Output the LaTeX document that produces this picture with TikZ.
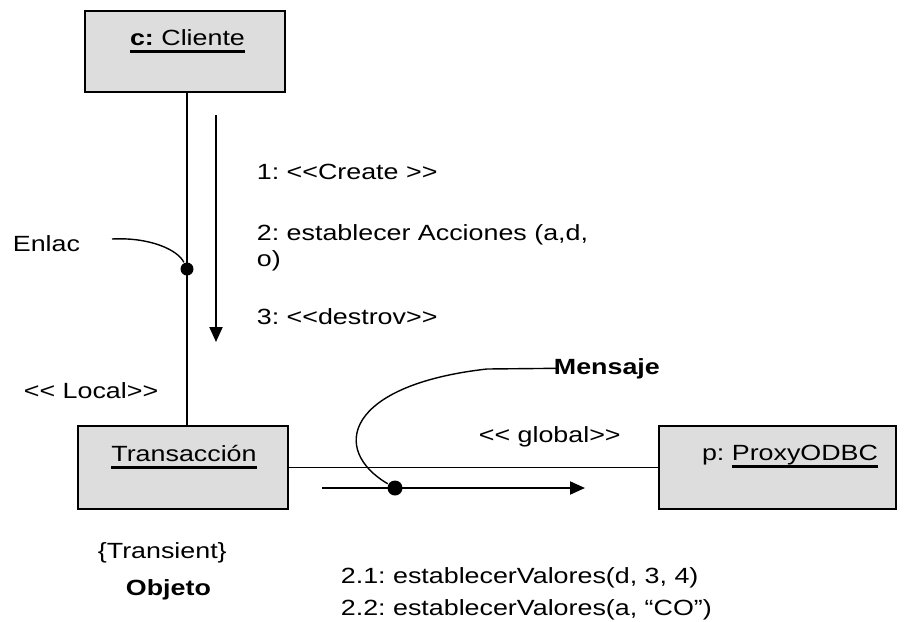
\documentclass[tikz,border=0pt]{standalone}
\usepackage{fontspec}
\setmainfont{Liberation Sans}[FakeStretch=1.22]
\usepackage{xcolor}
\usepackage{tikz}
\usetikzlibrary{arrows.meta}
\definecolor{boxgray}{RGB}{221,221,221}
\newcommand{\ulthick}[1]{\setbox0\hbox{#1}\rlap{\rule[-4pt]{\wd0}{1.5pt}}\box0}
\frenchspacing
\tikzset{
	objbox/.style={draw, line width=1pt, fill=boxgray, inner sep=0pt, anchor=north west},
	objname/.style={inner sep=0pt, anchor=base, font=\fontsize{11}{14}\selectfont},
	lbl/.style={anchor=base west, inner sep=0pt, font=\fontsize{11}{14}\selectfont},
	boldlbl/.style={lbl, font=\fontsize{11}{14}\selectfont\bfseries},
	msgarrow/.style={line width=1pt, -{Triangle[length=7.5pt, width=6.5pt]}},
	linkdot/.style={circle, fill, inner sep=0pt, minimum size=6.5pt},
}

\begin{document}
\begin{tikzpicture}[x=0.5pt, y=-0.5pt, line width=0.9pt]
	\useasboundingbox (0,0) rectangle (912,622);
	\node(cliente) [objbox, minimum width=100pt, minimum height=40.5pt] at (84,10) {};
	\node(transaccion) [objbox, minimum width=105pt, minimum height=41.5pt] at (77,425) {};
	\node(proxy) [objbox, minimum width=118.5pt, minimum height=41.5pt] at (658,425) {};
	\node(clientename) [objname] at (187.5,45) {\ulthick{\textbf{c:} Cliente}};
	\node(transaccionname) [objname] at (184,461) {\ulthick{Transacción}};
	\node(proxyname) [objname] at (790,460) {p: \ulthick{ProxyODBC}};

	\node(enlac) [lbl] at (12,251) {Enlac};
	\node(local) [lbl] at (23,398) {<{}< Local>{}>};
	\node(create) [lbl] at (256,179) {1: <{}<Create >{}>};
	\node(acciones) [lbl] at (256,240) {2: establecer Acciones (a,d,};
	\node(accioneswrap) [lbl] at (256,266) {o)};
	\node(destroy) [lbl] at (256,324) {3: <{}<destrov>{}>};
	\node(mensaje) [boldlbl] at (553,374) {Mensaje};
	\node(global) [lbl] at (478,442) {<{}< global>{}>};
	\node(transient) [lbl] at (97,558) {\{Transient\}};
	\node(objeto) [boldlbl] at (125,595) {Objeto};
	\node(valores1) [lbl] at (340,583) {2.1: establecerValores(d, 3, 4)};
	\node(valores2) [lbl] at (340,615) {2.2: establecerValores(a, “CO”)};

	\node(enlacdot) [linkdot] at (187,269) {};
	\draw (cliente.south -| enlacdot) -- (transaccion.north -| enlacdot);
	\coordinate (enlactail) at (112,239);
	\draw [line width=0.7pt] (enlactail) .. controls (150,237) and (178,250) .. (enlacdot);

	\coordinate (callstart) at (216,115);
	\coordinate (callend) at (216,342);
	\draw [msgarrow] (callstart) -- (callend);

	\draw (transaccion.east) -- (proxy.west);

	\coordinate (msgstart) at (322,488);
	\coordinate (msgend) at (585,488);
	\node(msgdot) [linkdot, minimum size=7.5pt] at (395,488) {};
	\draw [msgarrow] (msgstart) -- (msgend);
	\draw [line width=0.7pt] (msgdot) .. controls (330,450) and (345,385) .. (487,369) -- ([xshift=2pt]mensaje.west);
\end{tikzpicture}
\end{document}
